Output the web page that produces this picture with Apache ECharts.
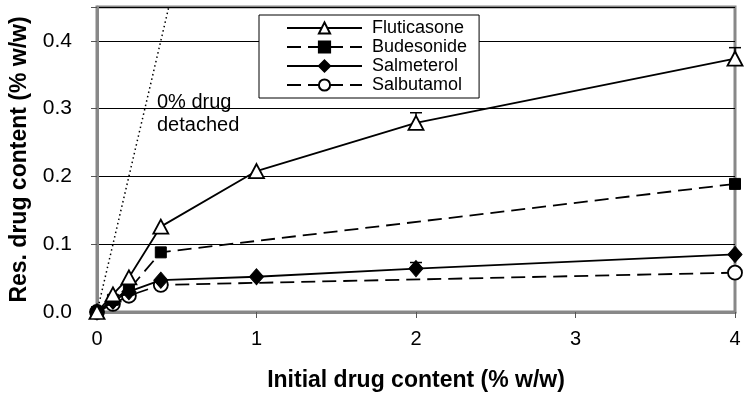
<!DOCTYPE html>
<html><head><meta charset="utf-8">
<script src="https://cdn.jsdelivr.net/npm/echarts@6/dist/echarts.min.js"></script>
<style>html,body{margin:0;padding:0;background:#fff}#c{width:748px;height:402px}</style>
</head><body><div id="c"></div>
<script>
const xTicks = [0, 1, 2, 3, 4];
const yTicks = [0, 0.1, 0.2, 0.3, 0.4];
const fluticasone = [[0,0],[0.1,0.026],[0.2,0.051],[0.4,0.126],[1,0.208],[2,0.279],[4,0.374]];
const budesonide = [[0,0],[0.1,0.018],[0.2,0.033],[0.4,0.088],[4,0.189]];
const salmeterol = [[0,0],[0.1,0.016],[0.2,0.030],[0.4,0.047],[1,0.052],[2,0.064],[4,0.085]];
const salbutamol = [[0,0],[0.1,0.012],[0.2,0.024],[0.4,0.040],[4,0.058]];
const flutErr = [[2,0.279,0.015],[4,0.374,0.016]];
const salmErr = [[2,0.064,0.009]];
const detachedLine = [[0,0],[0.45,0.45]];

const chart = echarts.init(document.getElementById('c'));
const F = '"Liberation Sans", Arial, sans-serif';
function errSeries(data){
  return {
    type:'custom', data:data, silent:true, z:5,
    renderItem:function(params, api){
      const p0 = api.coord([api.value(0), api.value(1)]);
      const p1 = api.coord([api.value(0), api.value(1)+api.value(2)]);
      return {type:'group', children:[
        {type:'line', shape:{x1:p0[0],y1:p0[1],x2:p1[0],y2:p1[1]}, style:{stroke:'#000',lineWidth:1.5}},
        {type:'line', shape:{x1:p1[0]-6,y1:p1[1],x2:p1[0]+6,y2:p1[1]}, style:{stroke:'#000',lineWidth:1.5}}
      ]};
    }
  };
}
chart.setOption({
  animation:false,
  grid:{left:93,right:13,top:7,bottom:90,show:true,borderColor:'#888',borderWidth:3,backgroundColor:'#fff'},
  legend:{
    left:259, top:15, orient:'vertical', itemWidth:75, itemHeight:14, itemGap:1,
    padding:[4,12,4,27],
    backgroundColor:'#fff', borderColor:'#000', borderWidth:1, borderRadius:0,
    textStyle:{fontFamily:F,fontSize:18,lineHeight:18,color:'#000',padding:[0,0,0,5]},
    data:['Fluticasone','Budesonide','Salmeterol','Salbutamol']
  },
  xAxis:{
    type:'value', min:0, max:4, interval:1,
    name:'Initial drug content (% w/w)', nameLocation:'middle', nameGap:57,
    nameTextStyle:{fontFamily:F,fontSize:23,fontWeight:'bold',color:'#000'},
    axisLine:{lineStyle:{color:'#888',width:3}},
    axisTick:{show:true,length:6,lineStyle:{color:'#555',width:1}},
    axisLabel:{fontFamily:F,fontSize:20,color:'#000',margin:17,formatter:v=>xTicks.includes(v)?String(v):''},
    splitLine:{show:false}
  },
  yAxis:{
    type:'value', min:0, max:0.45, interval:0.1,
    name:'Res. drug content (% w/w)', nameLocation:'middle', nameGap:66, nameRotate:90,
    nameTextStyle:{fontFamily:F,fontSize:23,fontWeight:'bold',color:'#000'},
    axisLine:{show:true,lineStyle:{color:'#888',width:3}},
    axisTick:{show:true,length:6,lineStyle:{color:'#555',width:1}},
    axisLabel:{fontFamily:F,fontSize:21,color:'#000',margin:25,
      formatter:v=>{const k=yTicks.find(t=>Math.abs(t-v)<1e-9);return k===undefined?'':k.toFixed(1);}},
    splitLine:{show:true,lineStyle:{color:'#000',width:1}}
  },
  graphic:[
    {type:'text', left:157, top:91, style:{text:'0% drug\ndetached', font:'20px '+F, fill:'#000', lineHeight:23, align:'left'}}
  ],
  series:[
    {type:'line', data:detachedLine, showSymbol:false, symbol:'none', lineStyle:{color:'#000',width:1.5,type:[1.5,3]}, z:1, silent:true},
    {name:'Salbutamol', type:'line', data:salbutamol, symbol:'circle', symbolSize:14,
      lineStyle:{color:'#000',width:1.8,type:[14,7]}, itemStyle:{color:'#fff',borderColor:'#000',borderWidth:1.8}, z:3},
    {name:'Salmeterol', type:'line', data:salmeterol, symbol:'diamond', symbolSize:[14,16],
      lineStyle:{color:'#000',width:1.8}, itemStyle:{color:'#000',borderColor:'#000',borderWidth:1}, z:4},
    {name:'Budesonide', type:'line', data:budesonide, symbol:'rect', symbolSize:11,
      lineStyle:{color:'#000',width:1.8,type:[14,7]}, itemStyle:{color:'#000',borderColor:'#000',borderWidth:1}, z:4},
    {name:'Fluticasone', type:'line', data:fluticasone, symbol:'triangle', symbolSize:[15,14],
      lineStyle:{color:'#000',width:1.8}, itemStyle:{color:'#fff',borderColor:'#000',borderWidth:1.8}, z:6},
    errSeries(flutErr),
    errSeries(salmErr)
  ]
});
</script></body></html>
